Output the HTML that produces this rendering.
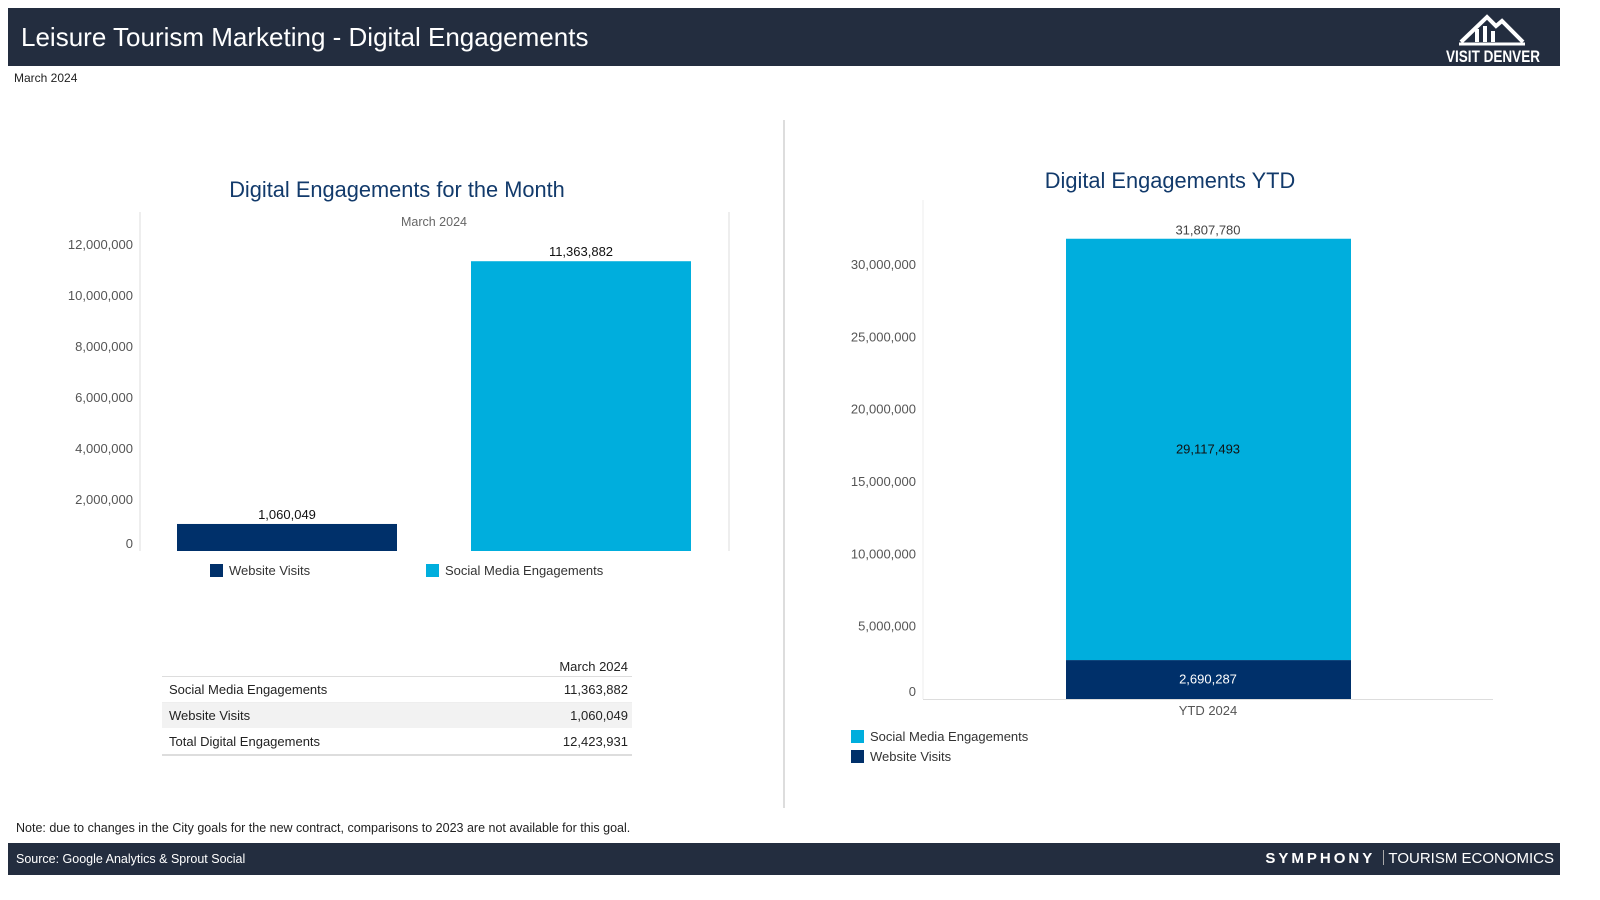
<!DOCTYPE html>
<html><head><meta charset="utf-8"><style>
body{margin:0;width:1600px;height:900px;background:#fff;font-family:"Liberation Sans",sans-serif;position:relative;overflow:hidden}
.abs{position:absolute}
.hdr{left:8px;top:8px;width:1552px;height:58px;background:#232d3f}
.ftr{left:8px;top:843px;width:1552px;height:32px;background:#232d3f}
svg text{font-family:"Liberation Sans",sans-serif}
</style></head><body>
<div class="abs hdr">
 <div class="abs" style="left:13px;top:14px;color:#fff;font-size:26px">Leisure Tourism Marketing - Digital Engagements</div>
 <svg class="abs" style="left:1425px;top:4px" width="110" height="54">
  <polyline points="28,30 54,5 63,14 69,9 90,30" fill="none" stroke="#fff" stroke-width="4"/>
  <rect x="42" y="17" width="4" height="13" fill="#fff"/><rect x="50" y="14" width="4" height="16" fill="#fff"/><rect x="58" y="19" width="4" height="11" fill="#fff"/>
  <line x1="26" y1="32" x2="92" y2="32" stroke="#fff" stroke-width="3"/>
  <text x="60" y="50" fill="#fff" font-size="17" font-weight="bold" text-anchor="middle" textLength="94" lengthAdjust="spacingAndGlyphs">VISIT DENVER</text>
 </svg>
</div>
<div class="abs" style="left:14px;top:71px;font-size:12px;color:#222">March 2024</div>
<div class="abs" style="left:783px;top:120px;width:2px;height:688px;background:#ddd"></div>

<svg class="abs" style="left:0;top:0" width="1600" height="900" id="charts">
 <text x="397" y="197" font-size="21.8" fill="#123a6b" text-anchor="middle">Digital Engagements for the Month</text>
 <text x="434" y="226" font-size="12.5" fill="#666" text-anchor="middle">March 2024</text>
 <text x="1170" y="188" font-size="21.8" fill="#123a6b" text-anchor="middle">Digital Engagements YTD</text>
 <g id="left"></g><g id="right"></g>
</svg>

<div class="abs" style="left:210px;top:563px;font-size:13px;color:#333"><span style="display:inline-block;width:13px;height:13px;background:#00306a;vertical-align:-2px;margin-right:6px"></span>Website Visits</div>
<div class="abs" style="left:426px;top:563px;font-size:13px;color:#333"><span style="display:inline-block;width:13px;height:13px;background:#00aedd;vertical-align:-2px;margin-right:6px"></span>Social Media Engagements</div>
<div class="abs" style="left:851px;top:729px;font-size:13px;color:#333"><span style="display:inline-block;width:13px;height:13px;background:#00aedd;vertical-align:-2px;margin-right:6px"></span>Social Media Engagements</div>
<div class="abs" style="left:851px;top:749px;font-size:13px;color:#333"><span style="display:inline-block;width:13px;height:13px;background:#00306a;vertical-align:-2px;margin-right:6px"></span>Website Visits</div>

<table class="abs" style="left:162px;top:657px;width:470px;border-collapse:collapse;font-size:13px;color:#222">
 <tr style="height:19px;border-bottom:1px solid #ddd"><td></td><td style="text-align:right;padding-right:4px">March 2024</td></tr>
 <tr style="height:26px;border-bottom:1px solid #eee"><td style="padding-left:7px">Social Media Engagements</td><td style="text-align:right;padding-right:4px">11,363,882</td></tr>
 <tr style="height:26px;background:#f2f2f2"><td style="padding-left:7px">Website Visits</td><td style="text-align:right;padding-right:4px">1,060,049</td></tr>
 <tr style="height:27px;border-bottom:2px solid #ddd"><td style="padding-left:7px">Total Digital Engagements</td><td style="text-align:right;padding-right:4px">12,423,931</td></tr>
</table>

<div class="abs" style="left:16px;top:821px;font-size:12.5px;color:#222">Note: due to changes in the City goals for the new contract, comparisons to 2023 are not available for this goal.</div>
<div class="abs ftr">
 <div class="abs" style="left:8px;top:9px;color:#fff;font-size:12.5px">Source: Google Analytics &amp; Sprout Social</div>
 <div class="abs" style="right:6px;top:7px;color:#fff;font-size:15px;white-space:nowrap"><b style="letter-spacing:3px">SYMPHONY</b> <span style="display:inline-block;width:1px;height:15px;background:#aaa;vertical-align:-2px;margin:0 4px"></span>TOURISM ECONOMICS</div>
</div>

<script>
const monthCategories=["Website Visits","Social Media Engagements"];
const monthValues=[1060049,11363882];
const monthTicks=[0,2000000,4000000,6000000,8000000,10000000,12000000];
const ytdWebsite=[2690287];
const ytdSocial=[29117493];
const ytdCategories=["YTD 2024"];
const ytdTicks=[0,5000000,10000000,15000000,20000000,25000000,30000000];
const NS="http://www.w3.org/2000/svg";
const fmt=v=>v.toLocaleString("en-US");
function mk(p,tag,a,txt){const e=document.createElementNS(NS,tag);for(const k in a)e.setAttribute(k,a[k]);if(txt!=null)e.textContent=txt;p.appendChild(e);return e;}
const L=document.getElementById("left");
const ly=v=>551-v*25.5/1e6;
const lx=i=>177+i*294;
mk(L,"line",{x1:140,y1:212,x2:140,y2:551,stroke:"#ddd"});
mk(L,"line",{x1:729,y1:212,x2:729,y2:551,stroke:"#ddd"});
monthTicks.forEach(t=>{const e=mk(L,"text",{x:133,y:(t===0?ly(t)-7:ly(t))+4,"font-size":13,fill:"#555","text-anchor":"end"},fmt(t));

});
monthValues.forEach((v,i)=>{const r=mk(L,"rect",{x:lx(i),y:ly(v),width:220,height:551-ly(v),fill:i?"#00aedd":"#00306a"});


const t=mk(L,"text",{x:lx(i)+110,y:ly(v)-5,"font-size":13,fill:"#111","text-anchor":"middle"},fmt(v));

});
const R=document.getElementById("right");
const ry=v=>699-v*14.47/1e6;
mk(R,"line",{x1:923,y1:200,x2:923,y2:699,stroke:"#eee"});
mk(R,"line",{x1:923,y1:699.5,x2:1493,y2:699.5,stroke:"#ddd"});
ytdTicks.forEach(t=>{const e=mk(R,"text",{x:916,y:(t===0?ry(t)-7:ry(t))+4,"font-size":13,fill:"#555","text-anchor":"end"},fmt(t));

});
ytdCategories.forEach((c,i)=>{
 const w=ytdWebsite[i],s=ytdSocial[i];
 const b1=mk(R,"rect",{x:1066,y:ry(w),width:285,height:699-ry(w),fill:"#00306a"});
 
 
 const b2=mk(R,"rect",{x:1066,y:ry(w+s),width:285,height:ry(w)-ry(w+s),fill:"#00aedd"});
 
 
 const t1=mk(R,"text",{x:1208,y:(ry(w)+699)/2+4,"font-size":13,fill:"#fff","text-anchor":"middle"},fmt(w));
 
 
 const t2=mk(R,"text",{x:1208,y:(ry(w)+ry(w+s))/2+4,"font-size":13,fill:"#111","text-anchor":"middle"},fmt(s));
 
 
 const t3=mk(R,"text",{x:1208,y:ry(w+s)-4,"font-size":13,fill:"#444","text-anchor":"middle"},fmt(w+s));
 
 
 const t4=mk(R,"text",{x:1208,y:715,"font-size":13,fill:"#555","text-anchor":"middle"},c);
 
 
});
</script>
</body></html>
